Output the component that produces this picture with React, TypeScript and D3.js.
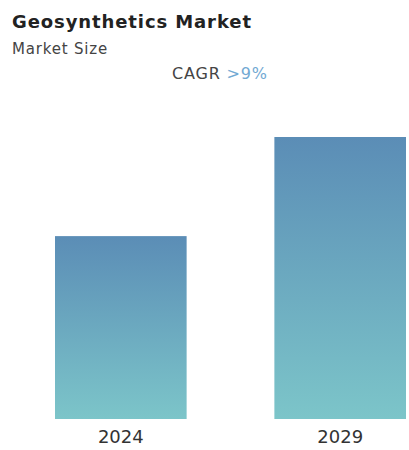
import React from "react";
import * as d3 from "d3";

const categories = ["2024", "2029"];
const values = [15.5, 23.9];
const title = "Geosynthetics Market";
const subtitle = "Market Size";
const cagrLabel = "CAGR";
const cagrValue = ">9%";

export default function App() {
  const width = 409;
  const height = 450;
  const baseline = 419;
  const x = d3.scaleBand<string>().domain(categories).range([55, 406]).paddingInner(0.4).paddingOuter(0);
  const y = d3.scaleLinear().domain([0, 23.9]).range([baseline, 137]);
  const font = "'DejaVu Sans', 'Open Sans', sans-serif";
  return (
    <svg width={width} height={height} style={{ position: "absolute", left: 0, top: 0 }}>
      <defs>
        <linearGradient id="barGrad" x1="0" y1="0" x2="0" y2="1">
          <stop offset="0%" stopColor="#5b8db6" />
          <stop offset="100%" stopColor="#7cc5c9" />
        </linearGradient>
      </defs>
      <rect width={width} height={height} fill="#ffffff" />
      <text x={12} y={28} fontFamily={font} fontWeight={700} fontSize={18} letterSpacing={0.9} fill="#222">{title}</text>
      <text x={12} y={54} fontFamily={font} fontSize={15} letterSpacing={0.8} fill="#444">{subtitle}</text>
      <text x={172} y={79} fontFamily={font} fontSize={16} letterSpacing={0.8} fill="#444">
        {cagrLabel} <tspan fill="#72a9d3">{cagrValue}</tspan>
      </text>
      {categories.map((c, i) => (
        <g key={c}>
          <rect x={x(c)} y={y(values[i])} width={x.bandwidth()} height={baseline - y(values[i])} fill="url(#barGrad)" />
          <text x={(x(c) ?? 0) + x.bandwidth() / 2} y={443} textAnchor="middle" fontFamily={font} fontSize={18} fill="#333">{c}</text>
        </g>
      ))}
    </svg>
  );
}
